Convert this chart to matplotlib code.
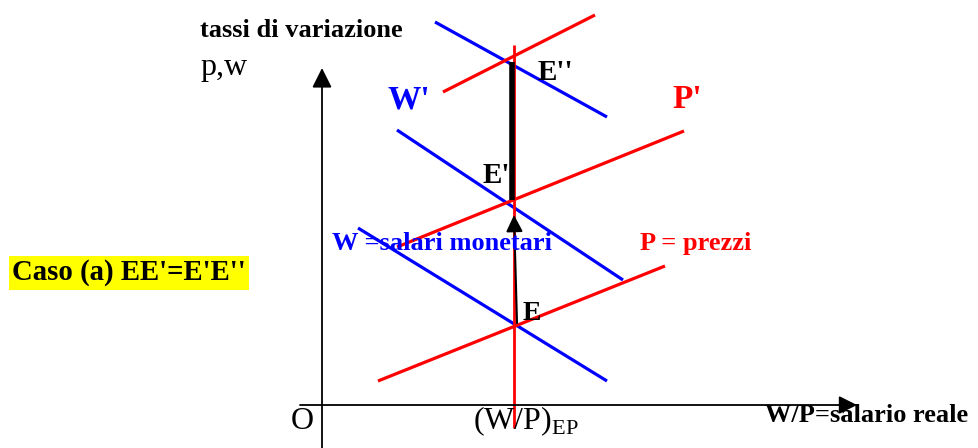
import matplotlib.pyplot as plt

plt.rcParams['font.family'] = ['Liberation Serif', 'DejaVu Serif']

# curve end points (origin O = intersection of the axes)
w_u = [36, 285];   w_v = [177, 24]      # W = salari monetari
p_u = [56, 343];   p_v = [24, 139]      # P = prezzi
w1_u = [75, 301];  w1_v = [275, 125]    # W'
p1_u = [75, 362];  p1_v = [158, 274]    # P'
w2_u = [113, 285]; w2_v = [383, 288]    # W''
p2_u = [121, 273]; p2_v = [313, 390]    # P''
ep_u = [192, 192]; ep_v = [-23, 360]    # (W/P)EP verticale
jump_u = [190, 190]; jump_v = [205, 343]  # E' -> E''
arr_u = [195, 192]; arr_v = [82, 190]     # E -> E'

fig = plt.figure(figsize=(9.79, 4.48), dpi=100)
ax = fig.add_axes([0, 0, 1, 1])
ax.set_xlim(-322, 657)
ax.set_ylim(-43, 405)
ax.axis('off')

# axes
head = '-|>,head_length=1.0,head_width=0.5'
ax.annotate('', xy=(0, 337), xytext=(0, -45),
            arrowprops=dict(arrowstyle=head, color='black', lw=1.3,
                            mutation_scale=12, shrinkA=0, shrinkB=0))
ax.annotate('', xy=(535, 0), xytext=(-22, 0),
            arrowprops=dict(arrowstyle=head, color='black', lw=1.3,
                            mutation_scale=11, shrinkA=0, shrinkB=0))

blue = '#0000ff'
red = '#ff0000'
lw = 2.3
ax.plot(w_u, w_v, color=blue, lw=lw, solid_capstyle='butt')
ax.plot(w1_u, w1_v, color=blue, lw=lw, solid_capstyle='butt')
ax.plot(w2_u, w2_v, color=blue, lw=lw, solid_capstyle='butt')
ax.plot(p_u, p_v, color=red, lw=lw, solid_capstyle='butt')
ax.plot(p1_u, p1_v, color=red, lw=lw, solid_capstyle='butt')
ax.plot(p2_u, p2_v, color=red, lw=lw, solid_capstyle='butt')
ax.plot(ep_u, ep_v, color=red, lw=2.0, solid_capstyle='butt')

ax.plot(jump_u, jump_v, color='black', lw=4.0, solid_capstyle='butt')
ax.annotate('', xy=(arr_u[1], arr_v[1]), xytext=(arr_u[0], arr_v[0]),
            arrowprops=dict(arrowstyle=head, color='black', lw=1.5,
                            mutation_scale=10, shrinkA=0, shrinkB=0))

# labels
ax.text(-122, 368, 'tassi di variazione', fontsize=19, fontweight='bold',
        ha='left', va='baseline')
ax.text(-122, 330, 'p,w', fontsize=23, ha='left', va='baseline')
ax.text(66, 297, "W'", fontsize=24, fontweight='bold', color=blue,
        ha='left', va='baseline')
ax.text(350, 297, "P'", fontsize=24, fontweight='bold', color=red,
        ha='left', va='baseline')
ax.text(216, 325, "E''", fontsize=21, fontweight='bold', ha='left', va='baseline')
ax.text(161, 222, "E'", fontsize=21, fontweight='bold', ha='left', va='baseline')
ax.text(201, 85, 'E', fontsize=20, fontweight='bold', ha='left', va='baseline')
ax.text(10, 155, 'W =salari monetari', fontsize=19, fontweight='bold',
        color=blue, ha='left', va='baseline')
ax.text(318, 155, 'P = prezzi', fontsize=19, fontweight='bold',
        color=red, ha='left', va='baseline')
ax.text(-310, 125, "Caso (a) EE'=E'E''", fontsize=20.7, fontweight='bold',
        ha='left', va='baseline',
        bbox=dict(facecolor='#ffff00', edgecolor='none', pad=2.5))
ax.text(-31, -24, 'O', fontsize=23, ha='left', va='baseline')
ax.text(151, -24, r'(W/P)$_{\mathregular{EP}}$', fontsize=23, ha='left', va='baseline')
ax.text(443, -17, 'W/P=salario reale', fontsize=19, fontweight='bold',
        ha='left', va='baseline')

fig.savefig('out.png', dpi=100)
